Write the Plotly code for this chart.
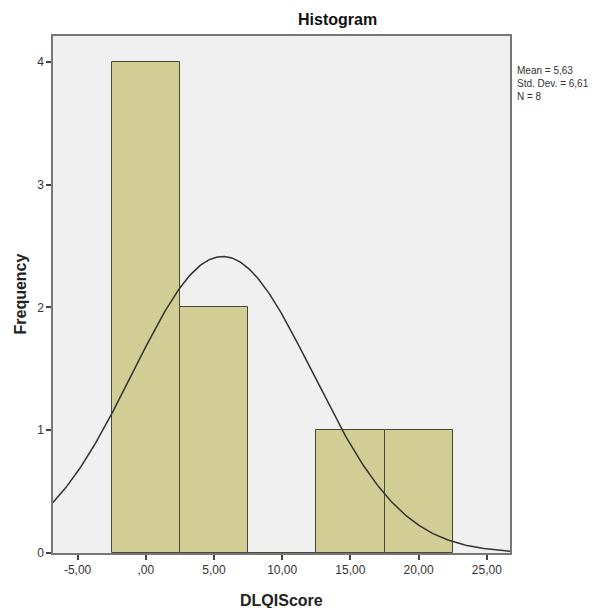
import numpy as np
import plotly.graph_objects as go

bin_centers = [0, 5, 10, 15, 20]
frequencies = [4, 2, 0, 1, 1]
bin_width = 5
mean_val = 5.63
sd_val = 6.61
n_val = 8
tick_vals = [-5, 0, 5, 10, 15, 20, 25]
tick_text = ["-5,00", ",00", "5,00", "10,00", "15,00", "20,00", "25,00"]
stats_lines = ["Mean = 5,63", "Std. Dev. = 6,61", "N = 8"]

x_range = [-6.8, 26.7]
xs = np.linspace(x_range[0], x_range[1], 300)
ys = n_val * bin_width / (sd_val * np.sqrt(2 * np.pi)) * np.exp(-0.5 * ((xs - mean_val) / sd_val) ** 2)

L, T, PW, PH = 45, 28, 457, 517
W, H = 600, 608

fig = go.Figure()
fig.add_trace(go.Bar(
    x=bin_centers, y=frequencies, width=[bin_width] * len(bin_centers),
    marker=dict(color="#D2CC95", line=dict(color="#4a4a3a", width=1)),
    hoverinfo="skip",
))
fig.add_trace(go.Scatter(
    x=xs, y=ys, mode="lines", line=dict(color="#333333", width=1.5), hoverinfo="skip",
))

annotations = [
    dict(text="<b>Histogram</b>", xref="paper", yref="paper",
         x=(329 - L) / PW, y=1 + (T - 11) / PH, xanchor="center", yanchor="middle",
         showarrow=False, font=dict(size=16, color="#111111")),
    dict(text="<b>Frequency</b>", xref="paper", yref="paper", textangle=-90,
         x=(12 - L) / PW, y=0.5, xanchor="center", yanchor="middle",
         showarrow=False, font=dict(size=16, color="#222222")),
    dict(text="<b>DLQIScore</b>", xref="paper", yref="paper",
         x=0.5, y=-(592 - (T + PH)) / PH, xanchor="center", yanchor="middle",
         showarrow=False, font=dict(size=16, color="#222222")),
]
for i, line in enumerate(stats_lines):
    fy = [63, 75, 88][i]
    annotations.append(dict(
        text=line, xref="paper", yref="paper", x=(507 - L) / PW, y=1 - (fy - T) / PH,
        xanchor="left", yanchor="middle", showarrow=False, align="left",
        font=dict(size=10, color="#333333"),
    ))

fig.update_layout(
    width=W, height=H,
    margin=dict(l=L, r=W - L - PW, t=T, b=H - T - PH, autoexpand=False),
    paper_bgcolor="white", plot_bgcolor="#F0F0F0",
    showlegend=False, bargap=0,
    font=dict(family="Liberation Sans, Arial, sans-serif", color="#333333", size=12),
    xaxis=dict(range=x_range, tickvals=tick_vals, ticktext=tick_text, ticks="outside", ticklen=5,
               tickcolor="#444444", tickwidth=1.5, showgrid=False, zeroline=False, showline=True,
               linecolor="#777777", mirror=True, linewidth=1.5, automargin=False),
    yaxis=dict(range=[0, 4.21], tickvals=[0, 1, 2, 3, 4], ticks="outside", ticklen=5,
               tickcolor="#444444", tickwidth=1.5, showgrid=False, zeroline=False, showline=True,
               linecolor="#777777", mirror=True, linewidth=1.5, automargin=False),
    annotations=annotations,
)

fig.write_html("out.html")
